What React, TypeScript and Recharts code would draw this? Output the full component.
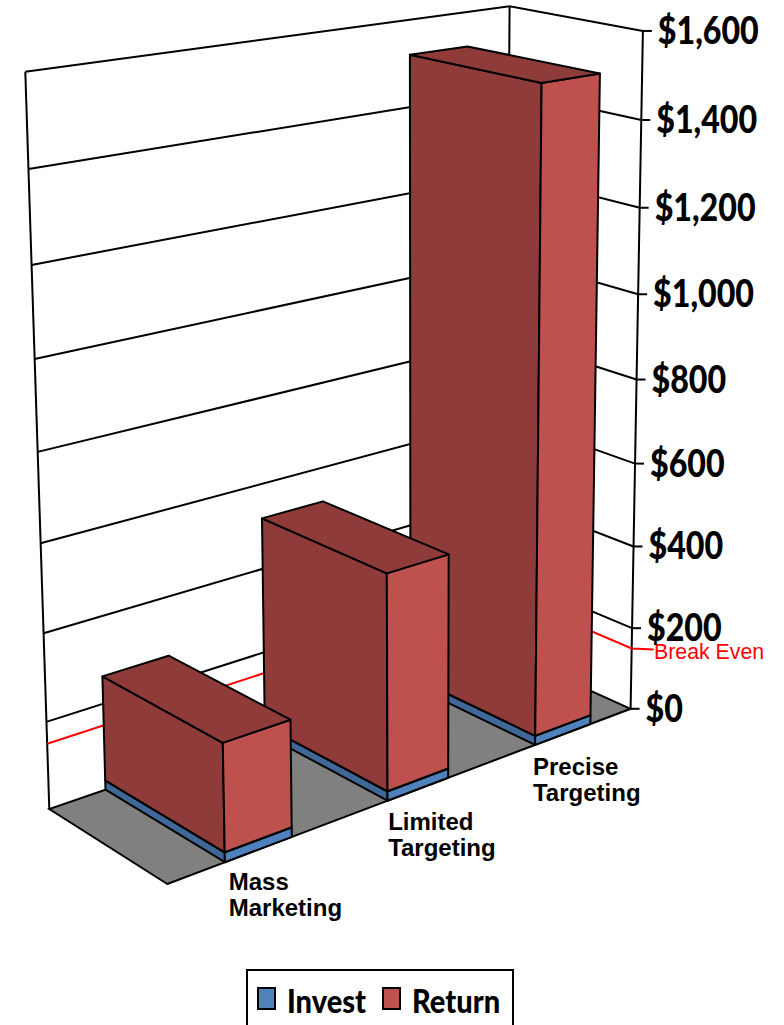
import { BarChart, Bar, XAxis, YAxis, CartesianGrid, Legend } from "recharts";

// drawn back to front, the reversed x axis puts Mass Marketing on the left
const categories = ["Precise Targeting", "Limited Targeting", "Mass Marketing"];
const invest = [22, 22, 22];
const ret = [1498, 497, 241];
const yTicks = [0, 200, 400, 600, 800, 1000, 1200, 1400, 1600];
const breakEven = [150];

const data = categories.map((name, i) => ({ name, invest: invest[i], ret: ret[i] }));

const W = 784;
const H = 1025;
// the axes take 1px each, an axis of size 0 is not drawn at all
const M = { top: 100, right: 99, bottom: 99, left: 100 };
const plotW = W - M.left - M.right - 1;
const plotH = H - M.top - M.bottom - 1;
const yMax = 1600;

// box corners as seen in the picture: [category, depth, height, px, py]
const corners = [
  [0, 0, 0, 168, 886],
  [1, 0, 0, 628, 707],
  [0, 1, 0, 48, 807],
  [1, 1, 0, 508, 654],
  [0, 1, 1, 26, 72],
  [1, 1, 1, 507, 6],
  [1, 0, 1, 645, 31],
];

// least squares fit of the perspective camera
function fitCamera() {
  const rows: number[][] = [];
  corners.forEach(([c, d, h, x, y]) => {
    rows.push([c, d, h, 1, 0, 0, 0, 0, -x * c, -x * d, -x * h, x]);
    rows.push([0, 0, 0, 0, c, d, h, 1, -y * c, -y * d, -y * h, y]);
  });
  const n = 11;
  const A = Array.from({ length: n }, (_, i) =>
    Array.from({ length: n + 1 }, (_, j) => rows.reduce((s, r) => s + r[i] * r[j], 0))
  );
  for (let i = 0; i < n; i++) {
    let p = i;
    for (let k = i + 1; k < n; k++) if (Math.abs(A[k][i]) > Math.abs(A[p][i])) p = k;
    [A[i], A[p]] = [A[p], A[i]];
    for (let k = 0; k < n; k++) {
      if (k === i) continue;
      const f = A[k][i] / A[i][i];
      for (let j = i; j <= n; j++) A[k][j] -= f * A[i][j];
    }
  }
  return A.map((r, i) => r[n] / r[i]);
}
const cam = fitCamera();

function project(c: number, d: number, h: number) {
  const w = cam[8] * c + cam[9] * d + cam[10] * h + 1;
  return [
    (cam[0] * c + cam[1] * d + cam[2] * h + cam[3]) / w,
    (cam[4] * c + cam[5] * d + cam[6] * h + cam[7]) / w,
  ];
}

const toC = (px: number) => (px - M.left) / plotW;
const toH = (py: number) => (M.top + plotH - py) / plotH;
const path = (pts: number[][]) => pts.map((p) => p.map((v) => v.toFixed(1)).join(",")).join(" ");

const Bar3D = ({ x, y, width, height, dark, light }: any) => {
  // width comes in negative on the reversed axis
  const c1 = toC(Math.min(x, x + width));
  const c2 = toC(Math.max(x, x + width));
  const top = toH(y);
  const bot = toH(y + height);
  const line = { stroke: "#000", strokeWidth: 2, strokeLinejoin: "round" as const };
  return (
    <g>
      <polygon fill={dark} {...line} points={path([project(c1, 0, bot), project(c1, 1, bot), project(c1, 1, top), project(c1, 0, top)])} />
      <polygon fill={light} {...line} points={path([project(c1, 0, bot), project(c2, 0, bot), project(c2, 0, top), project(c1, 0, top)])} />
      <polygon fill={dark} {...line} points={path([project(c1, 0, top), project(c2, 0, top), project(c2, 1, top), project(c1, 1, top)])} />
    </g>
  );
};

const GridLine = ({ y1 }: any) => {
  const h = toH(y1);
  const isFloor = Math.abs(h) < 0.001;
  const line = { stroke: "#000", strokeWidth: 2, fill: "none" };
  return (
    <g>
      {isFloor && (
        <>
          <polygon {...line} fill="#808080" points={path([project(0, 0, 0), project(1, 0, 0), project(1, 1, 0), project(0, 1, 0)])} />
          <polyline {...line} points={path([project(0, 1, 0), project(0, 1, 1)])} />
          <polyline {...line} points={path([project(1, 1, 0), project(1, 1, 1)])} />
          <polyline {...line} points={path([project(1, 0, 0), project(1, 0, 1)])} />
        </>
      )}
      {!isFloor && <polyline {...line} points={path([project(0, 1, h), project(1, 1, h), project(1, 0, h)])} />}
    </g>
  );
};

const BreakEvenLine = ({ y1 }: any) => {
  const h = toH(y1);
  const end = project(1, 0, h);
  return (
    <g>
      <polyline
        fill="none"
        stroke="#ff0000"
        strokeWidth={2}
        points={path([project(0, 1, h), project(1, 1, h), end, [end[0] + 22, end[1] + 1]])}
      />
      <text x={654} y={659} fontFamily="Liberation Sans" fontSize={21.3} fill="#ff0000">
        Break Even
      </text>
    </g>
  );
};

const ValueTick = ({ y, payload }: any) => {
  const p = project(1, 0, toH(y));
  return (
    <g>
      <line x1={p[0]} y1={p[1]} x2={p[0] + 9} y2={p[1]} stroke="#000" strokeWidth={2} />
      <text
        transform={`translate(${p[0] + 15},${p[1] + 13}) scale(0.87,1)`}
        fontFamily="Lato"
        fontWeight={900}
        fontSize={37}
        fill="#000"
      >
        {"$" + payload.value.toLocaleString("en-US")}
      </text>
    </g>
  );
};

const CategoryTick = ({ x, payload }: any) => {
  const p = project(toC(x), 0, 0);
  const words = payload.value.split(" ");
  const left = p[0] - 30;
  return (
    <text x={left} y={p[1] + 41} fontFamily="Liberation Sans" fontWeight={700} fontSize={24} fill="#000">
      {words.map((w: string, i: number) => (
        <tspan key={w} x={left} dy={i === 0 ? 0 : 26}>
          {w}
        </tspan>
      ))}
    </text>
  );
};

const LegendBox = ({ payload }: any) => {
  const spots = [10, 135];
  return (
    <div style={{ position: "relative", width: 264, height: 55, border: "2px solid #000", borderBottom: "none" }}>
      {(payload || []).map((p: any, i: number) => (
        <div key={p.value}>
          <span
            style={{
              position: "absolute",
              left: spots[i] - 1,
              top: 16,
              width: 19,
              height: 23,
              background: p.color,
              border: "2px solid #000",
              boxSizing: "border-box",
            }}
          />
          <span
            style={{
              position: "absolute",
              left: spots[i] + 29,
              top: 9,
              fontFamily: "Lato",
              fontWeight: 900,
              fontSize: 33,
              lineHeight: "40px",
              transform: "scaleX(0.88)",
              transformOrigin: "left",
              color: "#000",
            }}
          >
            {p.value}
          </span>
        </div>
      ))}
    </div>
  );
};

export default function App() {
  return (
    <div style={{ position: "absolute", left: 0, top: 0, width: W, height: H, overflow: "hidden" }}>
      <BarChart width={W} height={H} data={data} margin={M} barCategoryGap="30%">
        <CartesianGrid horizontalValues={yTicks} vertical={false} horizontal={(p: any) => <GridLine {...p} />} />
        <CartesianGrid horizontalValues={breakEven} vertical={false} horizontal={(p: any) => <BreakEvenLine {...p} />} />
        <XAxis
          dataKey="name"
          reversed
          height={1}
          interval={0}
          padding={{ left: 6, right: 0 }}
          axisLine={false}
          tickLine={false}
          tick={<CategoryTick />}
        />
        <YAxis
          orientation="right"
          width={1}
          domain={[0, yMax]}
          ticks={yTicks}
          axisLine={false}
          tickLine={false}
          tick={<ValueTick />}
        />
        <Legend
          layout="horizontal"
          verticalAlign="middle"
          align="center"
          wrapperStyle={{ left: 246, top: 969, width: 268 }}
          content={<LegendBox />}
        />
        <Bar
          dataKey="invest"
          name="Invest"
          stackId="a"
          fill="#4F81BD"
          isAnimationActive={false}
          shape={(p: any) => <Bar3D {...p} dark="#3F6797" light="#4F81BD" />}
        />
        <Bar
          dataKey="ret"
          name="Return"
          stackId="a"
          fill="#C0504D"
          isAnimationActive={false}
          shape={(p: any) => <Bar3D {...p} dark="#8E3B39" light="#BE514E" />}
        />
      </BarChart>
    </div>
  );
}
